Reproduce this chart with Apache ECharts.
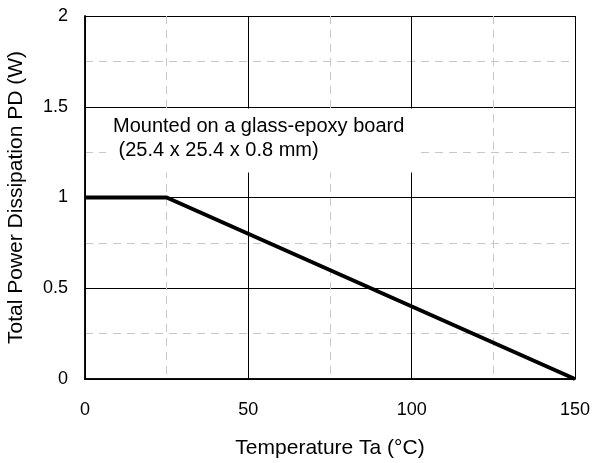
<!DOCTYPE html>
<html>
<head>
<meta charset="utf-8">
<script src="https://cdn.jsdelivr.net/npm/echarts@6/dist/echarts.min.js"></script>
<style>
  html, body { margin: 0; padding: 0; background: #fff; }
  #chart { width: 595px; height: 463px; }
</style>
</head>
<body>
<div id="chart"></div>
<script>
// derating curve: Ta (°C) vs PD (W)
const temps = [0, 25, 150];
const power = [1, 1, 0];
const xTicks = [0, 50, 100, 150];
const yTicks = [0, 0.5, 1, 1.5, 2];
const noteLines = ['Mounted on a glass-epoxy board', ' (25.4 x 25.4 x 0.8 mm)'];

const font = 'Liberation Sans, Arial, sans-serif';
const myChart = echarts.init(document.getElementById('chart'));

const frameAxis = {
  type: 'value',
  axisLine: { show: true, lineStyle: { color: '#000', width: 1.5 } },
  axisTick: { show: false },
  axisLabel: { show: false },
  splitLine: { show: false }
};

const option = {
  animation: false,
  backgroundColor: '#fff',
  grid: { left: 85, right: 20, top: 16, bottom: 84, outerBoundsMode: 'none', containLabel: false },
  xAxis: [
    {
      type: 'value',
      min: xTicks[0],
      max: xTicks[xTicks.length - 1],
      interval: 50,
      name: 'Temperature Ta (°C)',
      nameLocation: 'middle',
      nameGap: 59,
      nameTextStyle: { fontFamily: font, fontSize: 21, color: '#000' },
      axisLine: { show: true, lineStyle: { color: '#000', width: 1.5 } },
      axisTick: { show: false },
      axisLabel: { fontFamily: font, fontSize: 18, color: '#000', margin: 22 },
      splitLine: { show: true, lineStyle: { color: '#000', width: 1 } },
      minorTick: { show: false, splitNumber: 2 },
      minorSplitLine: { show: true, lineStyle: { color: '#c8c8c8', width: 1, type: [8, 6] } }
    },
    Object.assign({ position: 'top', min: 0, max: 150 }, frameAxis)
  ],
  yAxis: [
    {
      type: 'value',
      min: yTicks[0],
      max: yTicks[yTicks.length - 1],
      interval: 0.5,
      name: 'Total Power Dissipation PD (W)',
      nameLocation: 'middle',
      nameGap: 58,
      nameTextStyle: { fontFamily: font, fontSize: 21, color: '#000' },
      axisLine: { show: true, lineStyle: { color: '#000', width: 1.5 } },
      axisTick: { show: false },
      axisLabel: { fontFamily: font, fontSize: 18, color: '#000', margin: 17 },
      splitLine: { show: true, lineStyle: { color: '#000', width: 1 } },
      minorTick: { show: false, splitNumber: 2 },
      minorSplitLine: { show: true, lineStyle: { color: '#c8c8c8', width: 1, type: [8, 6] } }
    },
    Object.assign({ position: 'right', min: 0, max: 2 }, frameAxis)
  ],
  series: [
    {
      type: 'line',
      data: temps.map((t, i) => [t, power[i]]),
      symbol: 'none',
      lineStyle: { color: '#000', width: 4 },
      z: 10
    }
  ],
  graphic: [
    {
      type: 'rect',
      z: 50,
      shape: { x: 106, y: 108.5, width: 312, height: 64 },
      style: { fill: '#fff' }
    },
    {
      type: 'text',
      z: 51,
      x: 113,
      y: 114,
      style: {
        text: noteLines.join('\n'),
        font: '20px ' + font,
        fill: '#000',
        lineHeight: 24
      }
    }
  ]
};

option && myChart.setOption(option);
</script>
</body>
</html>
